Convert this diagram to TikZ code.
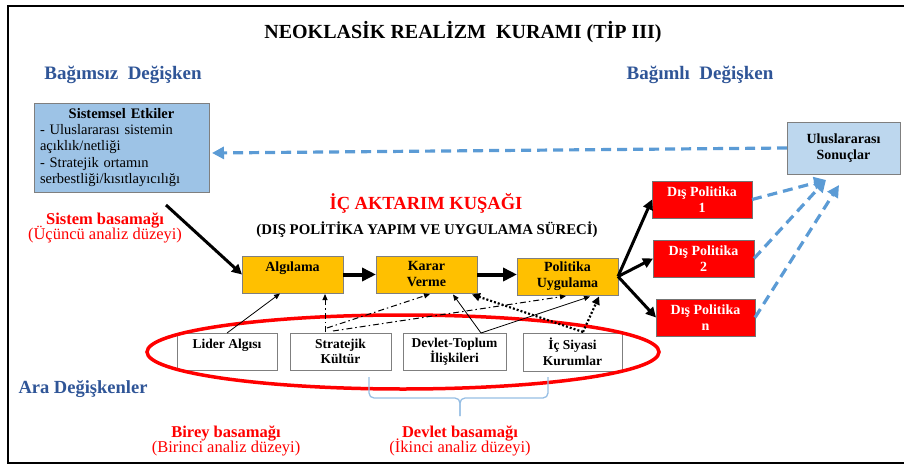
\documentclass[tikz,border=0pt]{standalone}
\usepackage{fontspec}
\setmainfont{Liberation Serif}
\usetikzlibrary{arrows.meta,shapes.geometric,calc}
\definecolor{titleblue}{RGB}{47,85,151}
\definecolor{sysblue}{RGB}{157,195,230}
\definecolor{ulusblue}{RGB}{189,215,238}
\definecolor{dashblue}{RGB}{91,155,213}
\definecolor{braceblue}{RGB}{150,190,228}
\definecolor{gold}{RGB}{255,192,0}
\definecolor{boxgray}{RGB}{127,127,127}
\begin{document}
\begin{tikzpicture}[x=1pt,y=-1pt,
  every node/.style={inner sep=0pt, outer sep=0pt},
  box/.style={draw=boxgray, line width=0.9pt, rectangle, align=center, font=\bfseries\fontsize{14}{16}\selectfont},
  ybox/.style={box, fill=gold, minimum width=101pt, minimum height=37pt},
  rbox/.style={box, fill=red, draw=black!55, text=white, minimum width=100pt, minimum height=37pt},
  wbox/.style={box, fill=white, minimum width=101pt, minimum height=37pt, font=\bfseries\fontsize{13.5}{15.5}\selectfont},
  mainarrow/.style={line width=4pt, -{Triangle[length=14pt,width=13pt]}},
  heavy/.style={line width=3pt, -{Triangle[length=10pt,width=10pt]}},
  bluedash/.style={draw=dashblue, line width=3.2pt, dash pattern=on 10pt off 6pt, -{Triangle[length=12pt,width=12pt]}},
  thinarrow/.style={line width=0.8pt, -{Triangle[length=6pt,width=5pt]}},
  dashdot/.style={line width=1pt, dash pattern=on 6pt off 3pt on 1.5pt off 3pt, -{Triangle[length=6pt,width=5pt]}},
  dotline/.style={line width=2.2pt, dash pattern=on 2pt off 2pt, -{Triangle[length=8pt,width=8pt]}},
  hdr/.style={font=\bfseries\fontsize{19}{21}\selectfont, text=titleblue, anchor=base},
  redb/.style={font=\bfseries\fontsize{16.5}{18}\selectfont, text=red, anchor=base},
  redr/.style={font=\fontsize{16.5}{18}\selectfont, text=red, anchor=base}
]
\useasboundingbox (0,0) rectangle (904,465);
% frame (right side outside the picture)
\draw[line width=2.5pt] (904,6) -- (8,6) -- (8,463) -- (904,463);

% titles
\node[font=\bfseries\fontsize{20}{22}\selectfont, anchor=base] (title) at (463,39) {NEOKLASİK REALİZM\ \ KURAMI (TİP III)};
\node[hdr] (indep) at (123,80) {Bağımsız\ \ Değişken};
\node[hdr] (dep) at (700,80) {Bağımlı\ \ Değişken};
\node[font=\bfseries\fontsize{18.5}{20}\selectfont, text=red, anchor=base] (belt) at (426,209) {İÇ AKTARIM KUŞAĞI};
\node[font=\bfseries\fontsize{14.8}{16}\selectfont, anchor=base] (process) at (427,234) {(DIŞ POLİTİKA YAPIM VE UYGULAMA SÜRECİ)};
\node[redb] (sysLvl) at (105,224) {Sistem basamağı};
\node[redr] (sysLvl2) at (105,239) {(Üçüncü analiz düzeyi)};
\node[hdr, font=\bfseries\fontsize{18.5}{20}\selectfont] (inter) at (83,393) {Ara Değişkenler};
\node[redb] (indLvl) at (226,437) {Birey basamağı};
\node[redr] (indLvl2) at (226,452) {(Birinci analiz düzeyi)};
\node[redb] (stLvl) at (460,437) {Devlet basamağı};
\node[redr] (stLvl2) at (460,452) {(İkinci analiz düzeyi)};

% boxes
\node[draw=boxgray, line width=0.9pt, fill=sysblue, minimum width=175pt, minimum height=89pt] (sys) at (121.5,147.5) {};
\node[anchor=west, text width=163pt, align=left, font=\fontsize{14.5}{16.3}\selectfont] (sysT) at (40,147.5)
  {\makebox[163pt][c]{\bfseries Sistemsel Etkiler}\\\makebox[135pt][s]{- Uluslararası sistemin}\\açıklık/netliği\\\makebox[111pt][s]{- Stratejik ortamın}\\serbestliği/kısıtlayıcılığı};
\node[box, fill=ulusblue, minimum width=113pt, minimum height=52pt] (ulus) at (843.5,148) {Uluslararası\\Sonuçlar};

\node[ybox] (alg) at (292.5,274.5) {Algılama\\\mbox{}};
\node[ybox] (karar) at (426.5,274.5) {Karar\\Verme};
\node[ybox] (pol) at (567.5,276.5) {Politika\\Uygulama};

\node[rbox] (dp1) at (702,199.5) {Dış Politika\\1};
\node[rbox, minimum width=101pt] (dp2) at (703.5,258.5) {Dış Politika\\2};
\node[rbox, minimum width=99pt] (dpn) at (705.5,317.5) {Dış Politika\\n};

\node[wbox, minimum width=100pt] (lider) at (227,351.5) {Lider Algısı\\\mbox{}};
\node[wbox] (strat) at (340.5,351.5) {Stratejik\\Kültür};
\node[wbox, minimum width=103pt] (devlet) at (454.5,351.5) {Devlet-Toplum\\İlişkileri};
\node[wbox, minimum width=99pt, minimum height=38pt] (ic) at (572.5,352) {İç Siyasi\\Kurumlar};

% ellipse
\node[draw=red, line width=3.5pt, ellipse, minimum width=512pt, minimum height=74pt] (ell) at (403,352) {};

% brace
\draw[braceblue, line width=1.3pt, rounded corners=5pt] (369,377) -- (369,398) -- (460,398) -- (460,416);
\draw[braceblue, line width=1.3pt, rounded corners=5pt] (548,377) -- (548,398) -- (460,398) -- (460,416);

% coordinates
\coordinate (sysOut) at (166,205);
\coordinate (sysIn) at (212,153);
\coordinate (ulusIn1) at (826,180);
\coordinate (ulusIn2) at (839,185);
\coordinate (algIn1) at (280,293.5);
\coordinate (algIn2) at (325,294);
\coordinate (stratT1) at (325,332);
\coordinate (stratT2) at (327,328);
\coordinate (stratT3) at (333,331);
\coordinate (kararIn1) at (430,294);
\coordinate (kararIn2) at (453,294.5);
\coordinate (kararIn3) at (472,294.5);
\coordinate (polIn1) at (566,296);
\coordinate (polIn2) at (590,296.5);
\coordinate (polIn3) at (599,296.5);
\coordinate (devT) at (481,333);
\coordinate (icT) at (583,332);

% main flow
\draw[heavy] (sysOut) -- (alg.west);
\draw[mainarrow] (alg.east) -- (karar.west);
\draw[mainarrow] (karar.east) -- (karar.east -| pol.west);
\draw[heavy] (pol.east) -- (dp1.west);
\draw[heavy] (pol.east) -- (dp2.west);
\draw[heavy] (pol.east) -- (dpn.west);

% feedback
\draw[bluedash] (ulus.west) -- (sysIn);
\draw[bluedash] (dp1.east) -- (ulusIn1);
\draw[bluedash] (dp2.east) -- (ulusIn1);
\draw[bluedash] (dpn.east) -- (ulusIn2);

% intervening variables
\draw[thinarrow] (lider.north) -- (algIn1);
\draw[dashdot] (stratT1) -- (algIn2);
\draw[dashdot] (stratT2) -- (kararIn1);
\draw[dashdot] (stratT3) -- (polIn1);
\draw[thinarrow] (devT) -- (kararIn2);
\draw[thinarrow] (devT) -- (polIn2);
\draw[dotline] (icT) -- (kararIn3);
\draw[dotline] (icT) -- (polIn3);
\end{tikzpicture}
\end{document}
